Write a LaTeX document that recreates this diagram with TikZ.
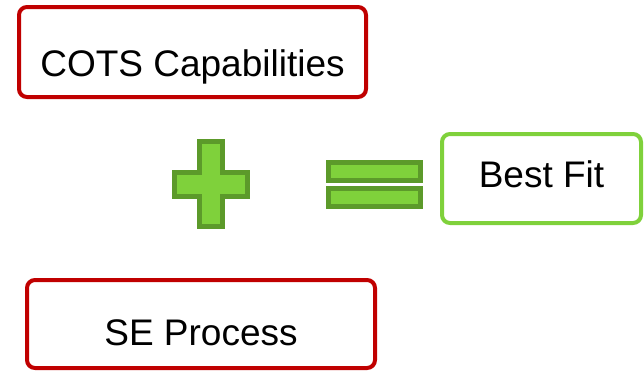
\documentclass[tikz,border=0pt]{standalone}
\usepackage{fontspec}
\setmainfont{Liberation Sans}
\usepackage{xcolor}
\definecolor{boxred}{HTML}{C00000}
\definecolor{lightgreen}{HTML}{7FD13B}
\definecolor{darkgreen}{HTML}{5C9A2A}
\usetikzlibrary{positioning}

\begin{document}
\begin{tikzpicture}[x=1pt, y=-1pt,
        box/.style={draw=boxred, line width=4pt, rounded corners=8pt, inner sep=0pt,
            text depth=0pt, font=\fontsize{37}{44}\selectfont},
        sign/.style={fill=lightgreen, draw=darkgreen, line width=5pt}]
        \useasboundingbox (0,0) rectangle (644,370);

        % inputs
        \node[box, minimum width=347pt, minimum height=90pt, text height=48pt] (cots) at (192.5,52) {COTS Capabilities};
        \node[box, minimum width=348pt, minimum height=88pt, text height=42pt] (se) at (201,324) {SE Process};

        % result
        \node[box, draw=lightgreen, minimum width=199pt, minimum height=89pt, text height=17pt] (fit) at (541.5,178.5) {Best Fit};

        % plus
        \draw[sign] (199.5,141.5) -- (222.5,141.5) -- (222.5,172.5) -- (247.5,172.5) -- (247.5,196.5)
            -- (222.5,196.5) -- (222.5,226.5) -- (199.5,226.5) -- (199.5,196.5) -- (174.5,196.5)
            -- (174.5,172.5) -- (199.5,172.5) -- cycle;

        % equals
        \draw[sign] (328.5,162.5) rectangle (420.5,180.5);
        \draw[sign] (328.5,188.5) rectangle (420.5,206.5);
    \end{tikzpicture}
\end{document}
